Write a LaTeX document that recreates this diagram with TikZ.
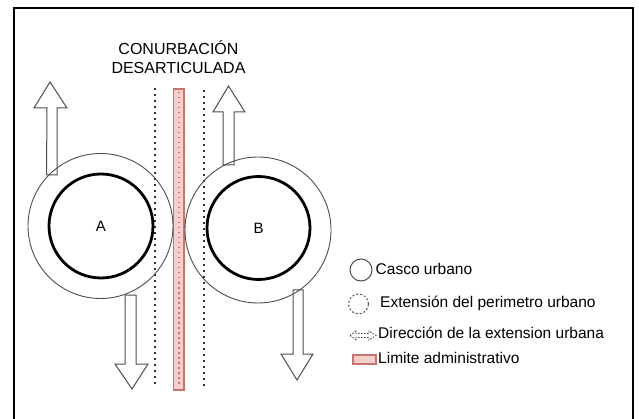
\documentclass[tikz,border=0pt]{standalone}
\usepackage{fontspec}
\setmainfont{Liberation Sans}
\definecolor{pinkfill}{HTML}{F8CECC}
\definecolor{pinkline}{HTML}{C77470}
\definecolor{arrowgrey}{HTML}{4D4D4D}
\definecolor{dotgrey}{HTML}{333333}
\begin{document}
\begin{tikzpicture}[x=1pt,y=-1pt,
  blockarrow/.style={draw=arrowgrey, line width=1, fill=white, line join=miter},
  outercirc/.style={circle, draw=arrowgrey, line width=0.9, inner sep=0pt},
  innercirc/.style={circle, draw=black, line width=2.8, inner sep=0pt, font=\fontsize{15}{18}\selectfont},
  dotline/.style={draw=dotgrey, line width=2, dash pattern=on 2 off 4},
  limitbox/.style={draw=pinkline, fill=pinkfill, line width=1.2},
  limitdots/.style={draw=pinkline, line width=1.5, dash pattern=on 1.5 off 3.5},
  legtext/.style={anchor=west, inner sep=0pt, font=\fontsize{15.5}{18}\selectfont},
  frame/.style={draw=black, line width=2}
]
\useasboundingbox (0,0) rectangle (639,419);
% frame
\draw[frame] (14,421) -- (14,8) -- (633,8) -- (633,421);
% title
\node[align=center, font=\fontsize{16}{19.2}\selectfont] (title) at (178.5,57) {CONURBACIÓN\\DESARTICULADA};
% dotted lines
\coordinate (d1t) at (155,88); \coordinate (d1b) at (155,386);
\coordinate (d2t) at (204,90); \coordinate (d2b) at (204,388);
\draw[dotline] (d1t) -- (d1b);
\draw[dotline] (d2t) -- (d2b);
% administrative limit
\draw[limitbox] (173.5,89) rectangle (184,390);
\coordinate (lt) at (178.8,92); \coordinate (lb) at (178.8,387);
\draw[limitdots] (lt) -- (lb);
% block arrows
\draw[blockarrow] (46.5,175) -- (47,108) -- (34,108) -- (50,82) -- (67,108) -- (57,108) -- (57,175) -- cycle;
\draw[blockarrow] (223,165) -- (223,112) -- (213,112) -- (228.5,86) -- (245,112) -- (234,112) -- (234,165) -- cycle;
\draw[blockarrow] (125,295) -- (125,364) -- (115,364) -- (132,389) -- (148,364) -- (136,364) -- (136,295) -- cycle;
\draw[blockarrow] (293,290) -- (293,354) -- (281,354) -- (297,380) -- (313,354) -- (303,354) -- (303,290) -- cycle;
% circles
\node[outercirc, minimum size=145] (outerA) at (100.5,226) {};
\node[innercirc, minimum size=104] (innerA) at (101,226) {A};
\node[outercirc, minimum size=146] (outerB) at (258,230) {};
\node[innercirc, minimum size=103] (innerB) at (258.5,228) {B};
% legend
\node[circle, draw=arrowgrey, line width=1, inner sep=0pt, minimum size=22] (lg1) at (361,270) {};
\node[legtext] (lt1) at (375.5,268.5) {Casco urbano};
\node[circle, draw=arrowgrey, line width=1, dash pattern=on 2 off 2, inner sep=0pt, minimum size=20] (lg2) at (358.5,304) {};
\node[legtext] (lt2) at (380,303) {Extensión del perimetro urbano};
\draw[draw=arrowgrey, line width=0.9, dash pattern=on 1.5 off 1.5, fill=white]
  (350,335.5) -- (356,331) -- (356,333.5) -- (369,333.5) -- (369,331) -- (376,335.5) -- (369,340) -- (369,337.5) -- (356,337.5) -- (356,340) -- cycle;
\node[legtext] (lt3) at (378,333) {Dirección de la extension urbana};
\node[limitbox, rectangle, inner sep=0pt, minimum width=23, minimum height=9, line width=1.2] (lg4) at (364.5,359.5) {};
\node[legtext] (lt4) at (378,358) {Limite administrativo};
\end{tikzpicture}
\end{document}
